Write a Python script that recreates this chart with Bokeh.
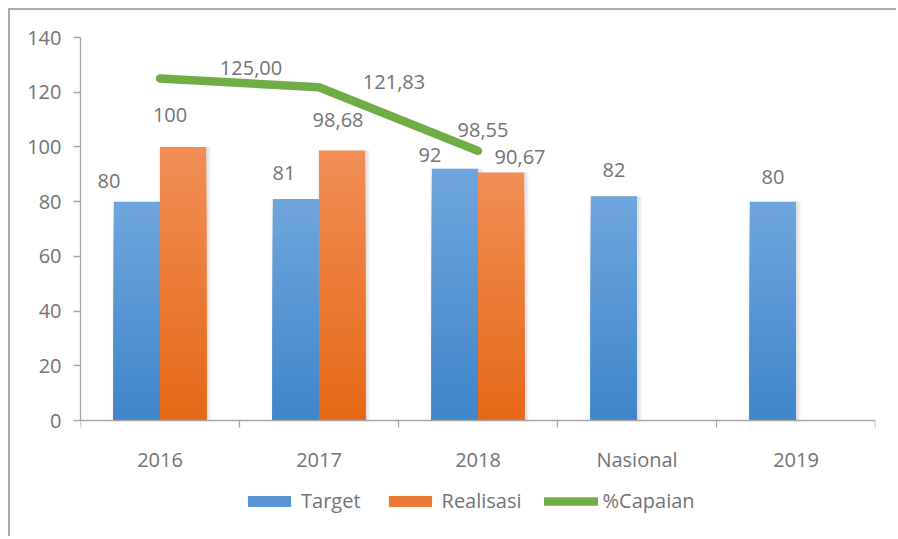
import numpy as np
from bokeh.plotting import figure
from bokeh.models import Range1d, FixedTicker, Legend, LegendItem, ColumnDataSource
from bokeh.embed import file_html
from bokeh.resources import INLINE
from bokeh.core.properties import value

# ---------------- data ----------------
categories = ["2016", "2017", "2018", "Nasional", "2019"]
target = [80, 81, 92, 82, 80]
realisasi = [100, 98.68, 90.67]
capaian = [125.00, 121.83, 98.55]
target_labels = ["80", "81", "92", "82", "80"]
realisasi_labels = ["100", "98,68", "90,67"]
capaian_labels = ["125,00", "121,83", "98,55"]
y_ticks = [0, 20, 40, 60, 80, 100, 120, 140]
Y_MAX = 140

# ---------------- style ----------------
FONT = "Open Sans"
FS = "20px"
TXT = "#737373"
AX = "#a6a6a6"
BLUE_TOP, BLUE_BOT = (0x70, 0xa6, 0xdd), (0x3f, 0x85, 0xc8)
ORNG_TOP, ORNG_BOT = (0xf1, 0x8e, 0x56), (0xe6, 0x68, 0x16)
GREEN = "#70ad47"
BAR_W = 0.29
N_SLICES = 30
# label pixel offsets (style only)
t_dx = [-28, -12, -25, 0, 0]
t_dy = [-21, -26, -14, -26, -25]
r_dx = [-13, -4, 19]
r_dy = [-32, -31, -15]
c_dx = [91, 75, 5]
c_dy = [-11, -5, -21]

W, H = 888, 528
TOP, BOTTOM = 27, 2
PLOT_H_PX = 383  # pixel height of the 0..Y_MAX axis
frame_h = H - TOP - BOTTOM
y_min = Y_MAX - frame_h * Y_MAX / PLOT_H_PX

p = figure(width=W, height=H, output_backend="svg", toolbar_location=None,
           x_range=Range1d(0, len(categories)), y_range=Range1d(y_min, Y_MAX),
           min_border_left=70, min_border_right=23, min_border_top=TOP,
           min_border_bottom=BOTTOM)
p.margin = (8, 0, 0, 8)
p.styles = {"border-top": "2px solid #ababab", "border-left": "2px solid #ababab"}
p.grid.visible = False
p.outline_line_color = None
p.background_fill_color = "white"
p.border_fill_color = "white"

centers = [i + 0.5 for i in range(len(categories))]
t_x = [c - BAR_W / 2 for c in centers]
r_x = [c + BAR_W / 2 for c in centers[:len(realisasi)]]


def mix(a, b, t):
    return "#%02x%02x%02x" % tuple(int(round(a[i] + (b[i] - a[i]) * t)) for i in range(3))


def gradient_source(xs, vals, c_top, c_bot, n=N_SLICES):
    x, top, color = [], [], []
    for k in reversed(range(n)):
        for xi, v in zip(xs, vals):
            x.append(xi)
            top.append(v * (k + 1) / n)
            color.append(mix(c_bot, c_top, (k + 0.5) / n))
    return ColumnDataSource(dict(x=x, top=top, color=color))


# soft shadow
px = 1.0 / 159.0
for grow, alpha in [(8, 0.025), (5, 0.035), (2, 0.05)]:
    p.vbar(x=[x + 1.5 * px for x in t_x], top=target, bottom=0, width=BAR_W + grow * px,
           fill_color="black", fill_alpha=alpha, line_color=None)
    p.vbar(x=[x + 1.5 * px for x in r_x], top=realisasi, bottom=0, width=BAR_W + grow * px,
           fill_color="black", fill_alpha=alpha, line_color=None)

bar_t = p.vbar(x="x", top="top", bottom=0, width=BAR_W, fill_color="color", line_color=None,
               source=gradient_source(t_x, target, BLUE_TOP, BLUE_BOT))
bar_r = p.vbar(x="x", top="top", bottom=0, width=BAR_W, fill_color="color", line_color=None,
               source=gradient_source(r_x, realisasi, ORNG_TOP, ORNG_BOT))

line_r = p.line(centers[:len(capaian)], capaian, line_color=GREEN, line_width=8.5,
                line_cap="round", line_join="round")


def labels(xs, ys, texts, dx, dy):
    p.text(x=xs, y=ys, text=texts, x_offset=dx, y_offset=dy,
           text_font=value(FONT), text_font_size=FS, text_color=TXT,
           text_align="center", text_baseline="middle")


labels(t_x, target, target_labels, t_dx, t_dy)
labels(r_x, realisasi, realisasi_labels, r_dx, r_dy)
labels(centers[:len(capaian)], capaian, capaian_labels, c_dx, c_dy)

# axes
ya = p.yaxis[0]
ya.ticker = FixedTicker(ticks=y_ticks)
ya.bounds = (0, Y_MAX)
ya.axis_line_color = AX
ya.axis_line_width = 1.3
ya.major_tick_line_color = AX
ya.major_tick_line_width = 1.3
ya.major_tick_out = 7
ya.major_tick_in = 0
ya.minor_tick_out = 0
ya.minor_tick_in = 0
ya.major_label_standoff = 12
ya.major_label_text_font = FONT
ya.major_label_text_font_size = FS
ya.major_label_text_color = TXT

xa = p.xaxis[0]
xa.fixed_location = 0
xa.ticker = FixedTicker(ticks=centers, minor_ticks=list(range(len(categories) + 1)))
xa.major_label_overrides = {c: name for c, name in zip(centers, categories)}
xa.axis_line_color = AX
xa.axis_line_width = 1.3
xa.major_tick_out = 0
xa.major_tick_in = 0
xa.major_tick_line_color = None
xa.minor_tick_out = 7
xa.minor_tick_in = 0
xa.minor_tick_line_color = AX
xa.minor_tick_line_width = 1.3
xa.major_label_standoff = 18
xa.major_label_text_font = FONT
xa.major_label_text_font_size = FS
xa.major_label_text_color = TXT

mid_t = (N_SLICES // 2) * len(target)
mid_r = (N_SLICES // 2) * len(realisasi)
legend = Legend(items=[LegendItem(label="Target", renderers=[bar_t], index=mid_t),
                       LegendItem(label="Realisasi", renderers=[bar_r], index=mid_r),
                       LegendItem(label="%Capaian", renderers=[line_r])],
                location=(162, 22), orientation="horizontal",
                glyph_width=54, glyph_height=14, label_standoff=5, spacing=22,
                padding=0, margin=0, background_fill_alpha=0, border_line_color=None,
                label_text_font=FONT, label_text_font_size=FS, label_text_color=TXT)
p.add_layout(legend, "center")

open("out.html", "w").write(file_html(p, INLINE))
